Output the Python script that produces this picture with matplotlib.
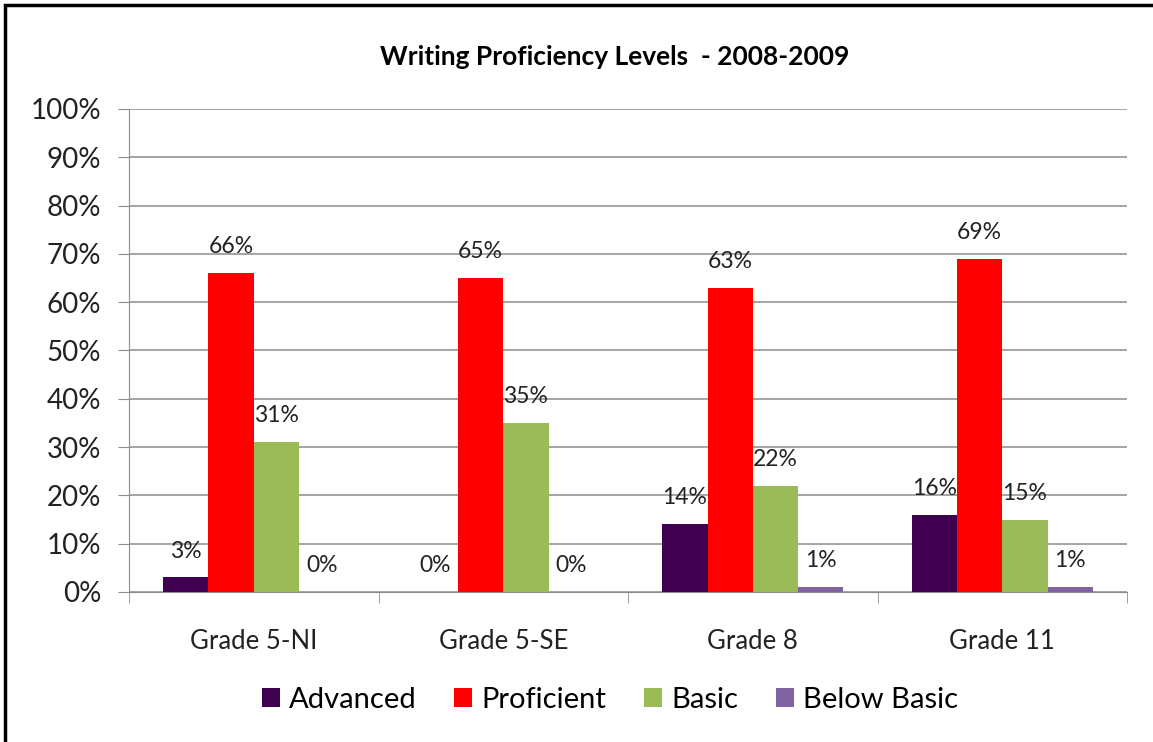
import matplotlib.pyplot as plt
import numpy as np
from matplotlib.patches import Rectangle

# =========================================================
# Data
# =========================================================
GRADES = ["Grade 5-NI", "Grade 5-SE", "Grade 8", "Grade 11"]
LEVELS = ["Advanced", "Proficient", "Basic", "Below Basic"]

ADVANCED    = [3, 0, 14, 16]
PROFICIENT  = [66, 65, 63, 69]
BASIC       = [31, 35, 22, 15]
BELOW_BASIC = [0, 0, 1, 1]

COLORS = ["#400050", "#FF0000", "#9BBB59", "#8064A2"]

plt.rcParams["font.family"] = ["Lato", "DejaVu Sans"]

# =========================================================
# Figure
# =========================================================
fig = plt.figure(figsize=(11.53, 7.42), dpi=100)
ax = fig.add_axes([0.1119, 0.2022, 0.8656, 0.6509])

x = np.arange(len(GRADES))
bar_w = 0.1815
series = [ADVANCED, PROFICIENT, BASIC, BELOW_BASIC]

for i, (vals, col, name) in enumerate(zip(series, COLORS, LEVELS)):
    pos = x + (i - 1.5) * bar_w
    bars = ax.bar(pos, vals, width=bar_w, color=col, label=name, zorder=3)
    for b, v in zip(bars, vals):
        ax.annotate(f"{v}%", (b.get_x() + b.get_width() / 2, v),
                    xytext=(0, 19), textcoords="offset points",
                    ha="center", va="center", fontsize=16.5, color="#222222")

# ---- axes ----
ax.set_xlim(-0.5, len(GRADES) - 0.5)
ax.set_ylim(0, 100)
ax.set_yticks(np.arange(0, 101, 10))
ax.set_yticklabels([f"{v}%" for v in range(0, 101, 10)], fontsize=20, color="#222222")
ax.yaxis.grid(True, color="#8C8C8C", linewidth=1.1, zorder=0)
ax.tick_params(axis="y", length=8, color="#8C8C8C", pad=12)

ax.set_xticks(x)
ax.set_xticklabels(GRADES, fontsize=18.5, color="#222222")
ax.set_xticks(np.arange(-0.5, len(GRADES)), minor=True)
ax.tick_params(axis="x", which="major", length=0, pad=27)
ax.tick_params(axis="x", which="minor", length=8, color="#8C8C8C")

for s in ["top", "right"]:
    ax.spines[s].set_visible(False)
ax.spines["left"].set_color("#8C8C8C")
ax.spines["bottom"].set_color("#8C8C8C")

ax.set_title("Writing Proficiency Levels  - 2008-2009", fontsize=19,
             fontweight="bold", pad=32, x=0.487)

ax.legend(loc="center", bbox_to_anchor=(0.482, -0.224), ncol=4,
          frameon=False, fontsize=21, handlelength=0.62, handleheight=0.62,
          handletextpad=0.31, columnspacing=1.3)

# ---- outer frame (left and top edges visible) ----
fig.patches.append(Rectangle((5 / 1153, -0.1), 1.2, 1.1 - 5 / 742,
                             transform=fig.transFigure, fill=False,
                             edgecolor="black", linewidth=2.5))

plt.savefig("out.png", dpi=100)
